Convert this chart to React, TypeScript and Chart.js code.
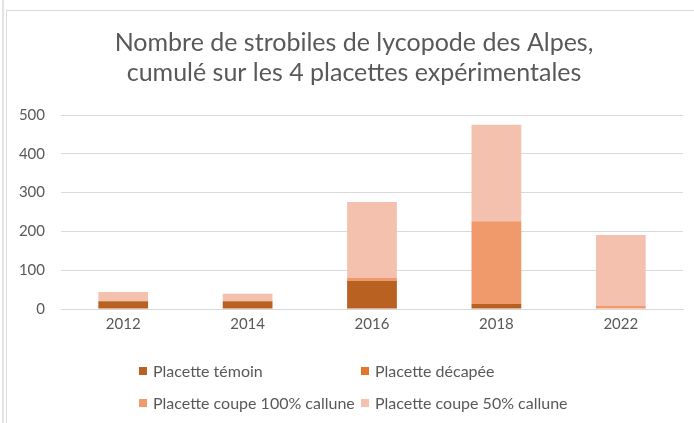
import React, { useEffect, useRef } from "react";
import { Chart, registerables } from "chart.js";

Chart.register(...registerables);

const TITLE_LINES = [
  "Nombre de strobiles de lycopode des Alpes,",
  "cumulé sur les 4 placettes expérimentales",
];
const YEARS = ["2012", "2014", "2016", "2018", "2022"];
const TEMOIN = [20, 20, 73, 13, 0];
const DECAPEE = [0, 0, 0, 0, 0];
const COUPE_100 = [0, 0, 7, 213, 8];
const COUPE_50 = [24, 19, 196, 249, 183];
const SERIES_LABELS = [
  "Placette témoin",
  "Placette décapée",
  "Placette coupe 100% callune",
  "Placette coupe 50% callune",
];
const SERIES_COLORS = ["#B96121", "#E2772C", "#F0996B", "#F4C1AF"];
const Y_MAX = 500;
const Y_STEP = 100;

const FONT = "Lato, 'Open Sans', sans-serif";
const TEXT_COLOR = "#595959";

const customPlugin = {
  id: "customTitleLegend",
  afterDraw(chart: any) {
    const ctx = chart.ctx;
    ctx.save();
    // title
    ctx.fillStyle = TEXT_COLOR;
    ctx.font = `25px ${FONT}`;
    ctx.textAlign = "center";
    ctx.textBaseline = "middle";
    TITLE_LINES.forEach((line, i) => {
      ctx.fillText(line, 354, 43 + i * 30);
    });
    // legend
    ctx.font = `16px ${FONT}`;
    ctx.textAlign = "left";
    const colX = [139, 361];
    const rowY = [371, 403];
    chart.data.datasets.forEach((ds: any, i: number) => {
      const x = colX[i % 2];
      const y = rowY[Math.floor(i / 2)];
      ctx.fillStyle = ds.backgroundColor;
      ctx.fillRect(x, y - 4, 8, 8);
      ctx.fillStyle = TEXT_COLOR;
      ctx.fillText(ds.label, x + 14, y + 1);
    });
    ctx.restore();
  },
};

export default function App() {
  const ref = useRef<HTMLCanvasElement | null>(null);
  useEffect(() => {
    document.body.style.margin = "0";
    const canvas = ref.current;
    if (!canvas) return;
    const series = [TEMOIN, DECAPEE, COUPE_100, COUPE_50];
    const chart = new Chart(canvas, {
      type: "bar",
      data: {
        labels: YEARS,
        datasets: series.map((d, i) => ({
          label: SERIES_LABELS[i],
          data: d,
          backgroundColor: SERIES_COLORS[i],
          borderWidth: 0,
          barPercentage: 0.4,
          categoryPercentage: 1,
        })),
      },
      options: {
        animation: false,
        responsive: false,
        devicePixelRatio: 1,
        layout: { padding: { left: 6, right: 11, top: 115, bottom: 88 } },
        plugins: {
          legend: { display: false },
          title: { display: false },
          tooltip: { enabled: false },
        },
        scales: {
          x: {
            stacked: true,
            grid: { display: false, drawTicks: false },
            border: { display: true, color: "#D9D9D9", width: 1 },
            ticks: {
              color: TEXT_COLOR,
              font: { family: FONT, size: 15 },
              padding: 6,
            },
            afterFit: (s: any) => {
              s.height = 26;
            },
          },
          y: {
            stacked: true,
            min: 0,
            max: Y_MAX,
            grid: { color: "#D9D9D9", drawTicks: false, lineWidth: 1 },
            border: { display: false },
            ticks: {
              stepSize: Y_STEP,
              color: TEXT_COLOR,
              font: { family: FONT, size: 15 },
              padding: 16,
            },
            afterFit: (s: any) => {
              s.width = 55;
            },
          },
        },
      },
      plugins: [customPlugin],
    });
    return () => chart.destroy();
  }, []);

  return (
    <div style={{ position: "relative", width: 694, height: 423, background: "#fff", overflow: "hidden" }}>
      <div style={{ position: "absolute", left: 2, top: 0, width: 2, height: 423, background: "#E3E3E3" }} />
      <div
        style={{
          position: "absolute",
          left: 6,
          top: 10,
          width: 700,
          height: 420,
          borderLeft: "1px solid #D9D9D9",
          borderTop: "1px solid #D9D9D9",
        }}
      />
      <canvas ref={ref} width={694} height={423} style={{ position: "absolute", left: 0, top: 0 }} />
    </div>
  );
}
